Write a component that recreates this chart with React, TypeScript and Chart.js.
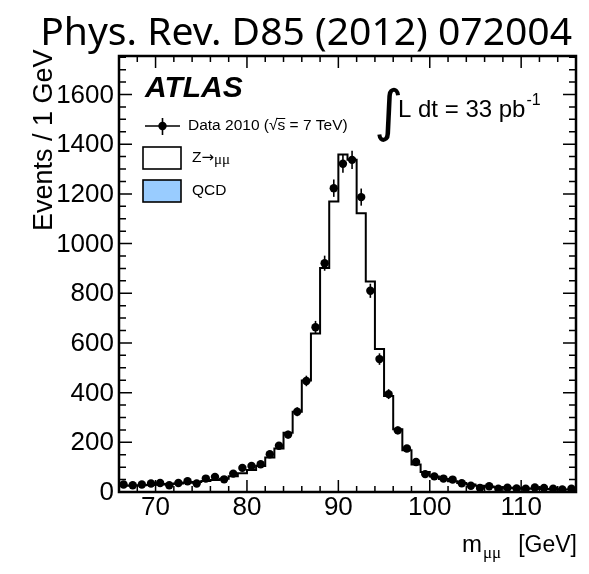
import React, { useEffect, useRef } from "react";
import { Chart, registerables } from "chart.js";

Chart.register(...registerables);

// 1 GeV bins of the dimuon invariant mass (low edges, GeV)
const binLowEdges = [
  66, 67, 68, 69, 70, 71, 72, 73, 74, 75,
  76, 77, 78, 79, 80, 81, 82, 83, 84, 85,
  86, 87, 88, 89, 90, 91, 92, 93, 94, 95,
  96, 97, 98, 99, 100, 101, 102, 103, 104, 105,
  106, 107, 108, 109, 110, 111, 112, 113, 114, 115,
];
const lastBinUpEdge = 116;

// Data 2010 (events per bin)
const dataEvents = [
  30, 27, 30, 34, 36, 27, 36, 43, 34, 54,
  61, 51, 74, 97, 105, 112, 152, 186, 231, 323,
  447, 663, 921, 1223, 1321, 1337, 1187, 810, 535, 394,
  248, 175, 121, 72, 63, 54, 50, 35, 25, 16,
  23, 13, 17, 14, 13, 18, 16, 13, 10, 13,
];

// Z -> mumu expectation
const zmumuMC = [
  25, 26, 27, 28, 30, 32, 34, 37, 40, 44,
  48, 53, 63, 75, 88, 104, 139, 175, 238, 323,
  449, 638, 901, 1169, 1358, 1337, 1122, 847, 575, 386,
  252, 168, 110, 80, 62, 52, 43, 36, 30, 25,
  22, 19, 17, 15, 14, 13, 12, 11, 10, 10,
];

// QCD background (negligible on this scale)
const qcdMC = [
  0.4, 0.4, 0.4, 0.4, 0.4, 0.3, 0.3, 0.3, 0.3, 0.3,
  0.3, 0.3, 0.3, 0.3, 0.3, 0.3, 0.3, 0.3, 0.3, 0.3,
  0.3, 0.3, 0.3, 0.3, 0.3, 0.3, 0.3, 0.3, 0.3, 0.3,
  0.2, 0.2, 0.2, 0.2, 0.2, 0.2, 0.2, 0.2, 0.2, 0.2,
  0.2, 0.2, 0.2, 0.2, 0.2, 0.2, 0.2, 0.2, 0.2, 0.2,
];

const xMajorTicks = [70, 80, 90, 100, 110];
const yMajorTicks = [0, 200, 400, 600, 800, 1000, 1200, 1400, 1600];
const X_MIN = 66;
const X_MAX = 116;
const Y_MIN = 0;
const Y_MAX = 1755;

const SANS = '"Liberation Sans", Arial, Helvetica, sans-serif';
const SERIF = '"Liberation Serif", "DejaVu Serif", serif';

const histPoints = (vals: number[]) => [
  ...binLowEdges.map((e, i) => ({ x: e, y: vals[i] })),
  { x: lastBinUpEdge, y: vals[vals.length - 1] },
];

const decorPlugin = {
  id: "decor",
  beforeDraw(chart: any) {
    const { ctx, width, height } = chart;
    ctx.save();
    ctx.fillStyle = "#fff";
    ctx.fillRect(0, 0, width, height);
    ctx.restore();
  },
  afterDatasetsDraw(chart: any) {
    const { ctx, chartArea, scales } = chart;
    const { left, right, top, bottom } = chartArea;
    const xs = scales.x;
    const ys = scales.y;
    ctx.save();

    // error bars
    ctx.strokeStyle = "#000";
    ctx.lineWidth = 1.6;
    dataEvents.forEach((n, i) => {
      const cx = xs.getPixelForValue(binLowEdges[i] + 0.5);
      const e = Math.sqrt(n);
      ctx.beginPath();
      ctx.moveTo(cx, Math.min(ys.getPixelForValue(Math.max(n - e, 0)), bottom));
      ctx.lineTo(cx, ys.getPixelForValue(n + e));
      ctx.stroke();
    });

    // frame
    ctx.lineWidth = 2.5;
    ctx.strokeRect(left, top, right - left, bottom - top);

    // ticks
    ctx.lineWidth = 1.5;
    const isMajor = (v: number, arr: number[]) => arr.some((m) => Math.abs(m - v) < 1e-6);
    for (let v = X_MIN; v <= X_MAX + 1e-9; v += 2) {
      const px = xs.getPixelForValue(v);
      const len = isMajor(v, xMajorTicks) ? 12 : 6;
      ctx.beginPath();
      ctx.moveTo(px, bottom);
      ctx.lineTo(px, bottom - len);
      ctx.moveTo(px, top);
      ctx.lineTo(px, top + len);
      ctx.stroke();
    }
    for (let v = Y_MIN; v <= Y_MAX + 1e-9; v += 50) {
      const py = ys.getPixelForValue(v);
      const len = isMajor(v, yMajorTicks) ? 13 : 7;
      ctx.beginPath();
      ctx.moveTo(left, py);
      ctx.lineTo(left + len, py);
      ctx.moveTo(right, py);
      ctx.lineTo(right - len, py);
      ctx.stroke();
    }

    // tick labels
    ctx.fillStyle = "#000";
    ctx.font = `26px ${SANS}`;
    ctx.textAlign = "center";
    ctx.textBaseline = "alphabetic";
    xMajorTicks.forEach((v) => {
      ctx.fillText(String(v), xs.getPixelForValue(v), 515);
    });
    ctx.textAlign = "right";
    ctx.textBaseline = "middle";
    yMajorTicks.forEach((v) => {
      ctx.fillText(String(v), 114, ys.getPixelForValue(v) + 1);
    });

    // y axis title
    ctx.save();
    ctx.translate(52, 231);
    ctx.rotate(-Math.PI / 2);
    ctx.textAlign = "left";
    ctx.textBaseline = "alphabetic";
    ctx.font = `27px ${SANS}`;
    ctx.fillText("Events / 1 GeV", 0, 0);
    ctx.restore();

    // x axis title: m_{mumu} [GeV]
    ctx.textBaseline = "alphabetic";
    ctx.textAlign = "left";
    ctx.font = `24px ${SANS}`;
    ctx.fillText("m", 462, 552);
    ctx.font = `17px ${SERIF}`;
    ctx.fillText("\u03bc\u03bc", 483, 558);
    ctx.font = `23px ${SANS}`;
    ctx.textAlign = "right";
    ctx.fillText("[GeV]", 577, 552);
    ctx.textAlign = "left";

    // title
    const title = "Phys. Rev. D85 (2012) 072004";
    ctx.font = `40px "Noto Sans", "Open Sans", sans-serif`;
    const tw = ctx.measureText(title).width;
    const fs = (40 * 532) / tw;
    ctx.font = `${fs}px "Noto Sans", "Open Sans", sans-serif`;
    ctx.textAlign = "right";
    ctx.fillText(title, 572, 45);

    // ATLAS label
    ctx.textAlign = "left";
    ctx.font = `italic bold 30px ${SANS}`;
    ctx.fillText("ATLAS", 145, 97);

    // Integrated luminosity
    ctx.font = `60px "DejaVu Sans", sans-serif`;
    const m = ctx.measureText("\u222b");
    const gh = m.actualBoundingBoxAscent + m.actualBoundingBoxDescent;
    const gfs = (60 * 55) / gh;
    ctx.font = `${gfs}px "DejaVu Sans", sans-serif`;
    const m2 = ctx.measureText("\u222b");
    const gx = 377 + m2.actualBoundingBoxLeft;
    const gy = 87 + m2.actualBoundingBoxAscent;
    ctx.fillText("\u222b", gx, gy);
    ctx.font = `24px ${SANS}`;
    const lumi = "L dt = 33 pb";
    ctx.fillText(lumi, 398, 117);
    const lw = ctx.measureText(lumi).width;
    ctx.font = `16px ${SANS}`;
    ctx.fillText("-1", 398 + lw + 1, 105);

    // legend
    ctx.lineWidth = 1.6;
    ctx.beginPath();
    ctx.moveTo(145, 126);
    ctx.lineTo(180, 126);
    ctx.moveTo(162.5, 118);
    ctx.lineTo(162.5, 135);
    ctx.stroke();
    ctx.beginPath();
    ctx.arc(162.5, 126, 4.2, 0, Math.PI * 2);
    ctx.fill();

    ctx.font = `15.5px ${SANS}`;
    ctx.textBaseline = "middle";
    const pre = "Data 2010 (\u221a";
    ctx.fillText(pre + "s = 7 TeV)", 188, 126);
    const wp = ctx.measureText(pre).width;
    const ws = ctx.measureText("s").width;
    ctx.lineWidth = 1;
    ctx.beginPath();
    ctx.moveTo(188 + wp - 1, 118.5);
    ctx.lineTo(188 + wp + ws, 118.5);
    ctx.stroke();

    ctx.lineWidth = 1.6;
    ctx.fillStyle = "#fff";
    ctx.fillRect(143, 147, 38, 22);
    ctx.strokeRect(143, 147, 38, 22);
    ctx.fillStyle = "#99ccff";
    ctx.fillRect(143, 180, 38, 22);
    ctx.strokeRect(143, 180, 38, 22);

    ctx.fillStyle = "#000";
    ctx.font = `15.5px ${SANS}`;
    ctx.fillText("Z", 192, 158);
    const wz = ctx.measureText("Z").width;
    ctx.font = `15px "DejaVu Sans", sans-serif`;
    ctx.fillText("\u2192", 192 + wz, 158);
    const wa = ctx.measureText("\u2192").width;
    ctx.font = `15px ${SERIF}`;
    ctx.fillText("\u03bc\u03bc", 192 + wz + wa, 160);
    ctx.font = `15.5px ${SANS}`;
    ctx.fillText("QCD", 192, 191);

    ctx.restore();
  },
};

export default function App() {
  const canvasRef = useRef<HTMLCanvasElement | null>(null);

  useEffect(() => {
    const canvas = canvasRef.current;
    if (!canvas) return;
    const totalMC = zmumuMC.map((v, i) => v + qcdMC[i]);
    const chart = new Chart(canvas, {
      type: "line",
      data: {
        datasets: [
          {
            label: "QCD",
            data: histPoints(qcdMC),
            stepped: "before",
            borderColor: "#000",
            borderWidth: 1,
            backgroundColor: "#99ccff",
            fill: "origin",
            pointRadius: 0,
            order: 3,
          } as any,
          {
            label: "Z\u2192\u03bc\u03bc",
            data: histPoints(totalMC),
            stepped: "before",
            borderColor: "#000",
            borderWidth: 2,
            fill: false,
            pointRadius: 0,
            order: 2,
          } as any,
          {
            type: "scatter",
            label: "Data 2010",
            data: binLowEdges.map((e, i) => ({ x: e + 0.5, y: dataEvents[i] })),
            pointRadius: 4.2,
            pointBackgroundColor: "#000",
            pointBorderColor: "#000",
            pointBorderWidth: 0,
            showLine: false,
            order: 1,
          } as any,
        ],
      },
      options: {
        responsive: false,
        animation: false,
        devicePixelRatio: 1,
        layout: { padding: { left: 0, right: 13, top: 56, bottom: 0 } },
        plugins: { legend: { display: false }, tooltip: { enabled: false }, title: { display: false } },
        scales: {
          x: {
            type: "linear",
            min: X_MIN,
            max: X_MAX,
            grid: { display: false },
            border: { display: false },
            ticks: { display: false },
            afterFit: (s: any) => {
              s.height = 82;
            },
          },
          y: {
            type: "linear",
            min: Y_MIN,
            max: Y_MAX,
            grid: { display: false },
            border: { display: false },
            ticks: { display: false },
            afterFit: (s: any) => {
              s.width = 119;
            },
          },
        },
      } as any,
      plugins: [decorPlugin],
    });
    return () => chart.destroy();
  }, []);

  return (
    <div style={{ position: "absolute", left: 0, top: 0, width: 589, height: 574 }}>
      <canvas ref={canvasRef} width={589} height={574} style={{ width: 589, height: 574, display: "block" }} />
    </div>
  );
}
